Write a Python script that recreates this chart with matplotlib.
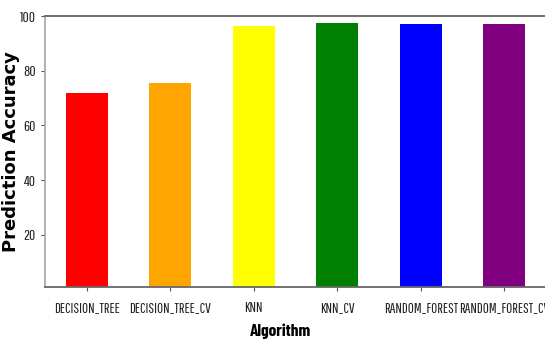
import matplotlib
matplotlib.use('Agg')
import matplotlib.pyplot as plt
from matplotlib import font_manager

algorithms = ['DECISION_TREE', 'DECISION_TREE_CV', 'KNN', 'KNN_CV',
              'RANDOM_FOREST', 'RANDOM_FOREST_CV']
accuracy = [71.8, 75.6, 96.2, 97.4, 97.0, 97.0]
colors = ['red', 'orange', 'yellow', 'green', 'blue', 'purple']
yticks = [20, 40, 60, 80, 100]

names = set(f.name for f in font_manager.fontManager.ttflist)


def pick(cands, default='DejaVu Sans'):
    for c in cands:
        if c in names:
            return c
    return default


# the reference looks squeezed sideways, so use very narrow faces
tick_font = pick(['Pathway Gothic One', 'Sofia Sans Extra Condensed',
                  'Saira Extra Condensed', 'Barlow Condensed',
                  'Roboto Condensed'])
bold_font = pick(['Barlow Condensed', 'Sofia Sans Extra Condensed',
                  'Roboto Condensed'])

fig = plt.figure(figsize=(5.45, 3.42), dpi=100)
ax = fig.add_axes([45 / 545, 55 / 342, 501 / 545, 271 / 342])

x = range(len(algorithms))
ax.bar(x, accuracy, width=0.5, color=colors)
ax.set_xlim(-0.5, 5.5)
ax.set_ylim(1, 100)

ax.set_xticks(list(x))
ax.set_xticklabels(algorithms, fontsize=10.5, family=tick_font)
ax.set_yticks(yticks)
ax.set_yticklabels([str(v) for v in yticks], fontsize=11, family=tick_font)
ax.tick_params(colors='#555555', length=3, width=0.8, labelcolor='#222222')
ax.tick_params(axis='x', pad=7)

for side in ['left', 'top', 'right', 'bottom']:
    ax.spines[side].set_color('#666666')
    ax.spines[side].set_linewidth(1.3)
ax.spines['left'].set_color('#aaaaaa')

ax.set_xlabel('Algorithm', fontsize=12.5, fontweight='bold', family=bold_font)
ax.xaxis.set_label_coords(0.47, -0.135)
ax.set_ylabel('Prediction Accuracy', fontsize=13, fontweight='bold',
              family='DejaVu Sans')
ax.yaxis.set_label_coords(-0.05, 0.5)

fig.savefig('out.png', dpi=100)
